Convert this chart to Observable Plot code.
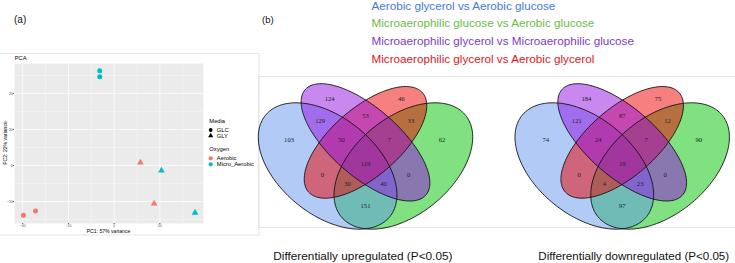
<!DOCTYPE html>
<html>
<head>
<meta charset="utf-8">
<script src="https://cdn.jsdelivr.net/npm/d3@7"></script>
<script src="https://cdn.jsdelivr.net/npm/@observablehq/plot@0.6"></script>
<style>
  html, body { margin: 0; padding: 0; background: #fff; }
  #root { position: relative; width: 735px; height: 263px; overflow: hidden; font-family: "Liberation Sans", Arial, sans-serif; }
  #root svg { position: absolute; }
</style>
</head>
<body>
<div id="root"></div>
<script>
// ---------------- data: PCA ----------------
const pc1 = [-6.3, -6.3, -39.7, -34.4, 11.5, 17.5, 20.7, 35.4];
const pc2 = [26.3, 24.6, -13.8, -12.6, 0.8, -10.6, -1.4, -13.1];
const media = ["GLC", "GLC", "GLC", "GLC", "GLY", "GLY", "GLY", "GLY"];
const oxygen = ["Micro_Aerobic", "Micro_Aerobic", "Aerobic", "Aerobic", "Aerobic", "Aerobic", "Micro_Aerobic", "Micro_Aerobic"];
const mediaLevels = ["GLC", "GLY"];
const oxygenLevels = ["Aerobic", "Micro_Aerobic"];
const pcaXTicks = [-40, -20, 0, 20];
const pcaYTicks = [-10, 0, 10, 20];
const pcaXMinor = [-30, -10, 10, 30];
const pcaYMinor = [-15, -5, 5, 15, 25];
const pcaTitle = "PCA";
const pcaXLabel = "PC1: 57% variance";
const pcaYLabel = "PC2: 22% variance";

// ---------------- data: Venn ----------------
const comparisons = [
  "Aerobic glycerol vs Aerobic glucose",
  "Microaerophilic glucose vs Aerobic glucose",
  "Microaerophilic glycerol vs Microaerophilic glucose",
  "Microaerophilic glycerol vs Aerobic glycerol"
];
// regions: B=set1 (blue), G=set2 (green), P=set3 (purple), R=set4 (red)
const regionNames = ["P", "PR", "R", "BP", "BPR", "BGPR", "GPR", "GR", "B", "BR", "BGR", "BGP", "GP", "G", "BG"];
const upCounts   = [124, 53, 46, 129, 50, 119, 7, 33, 103, 0, 30, 40, 0, 62, 151];
const downCounts = [184, 87, 75, 121, 24, 19, 7, 12, 74, 0, 4, 23, 0, 90, 97];
const vennTitles = ["Differentially upregulated (P<0.05)", "Differentially downregulated (P<0.05)"];

// ---------------- styles / layout ----------------
const oxygenColors = ["#F8766D", "#00BFC4"];
const setFill = ["cornflowerblue", "#00c400", "#9410e2", "#ee0000"];
const setTextColor = ["#4678d8", "#6cbb46", "#7b3cc6", "#e0141b"];
// label anchors of the 15 regions (unit square of the diagram)
const regionLabelX = [0.35, 0.50, 0.65, 0.31, 0.40, 0.50, 0.60, 0.69, 0.18, 0.32, 0.425, 0.575, 0.68, 0.82, 0.50];
const regionLabelY = [0.77, 0.69, 0.77, 0.67, 0.58, 0.47, 0.58, 0.67, 0.58, 0.42, 0.38, 0.38, 0.42, 0.58, 0.28];
// ellipse geometry (unit square of the diagram): blue, green, purple, red
const ellipseShape = [
  {cx: 0.3415, cy: 0.4615, a: 0.35, b: 0.214, rot: 135},
  {cx: 0.6585, cy: 0.4615, a: 0.35, b: 0.214, rot: 45},
  {cx: 0.50, cy: 0.57, a: 0.35, b: 0.15, rot: 135},
  {cx: 0.50, cy: 0.57, a: 0.33, b: 0.15, rot: 45}
];
const fillOrder = [1, 0, 3, 2];

const FONT = "Liberation Sans, Arial, sans-serif";
const root = d3.select("#root");

// ---------------- static annotations ----------------
const ann = root.append("svg").attr("width", 735).attr("height", 263).style("left", "0px").style("top", "0px")
  .attr("font-family", FONT);
ann.append("rect").attr("x", -1).attr("y", 53.5).attr("width", 260).attr("height", 181.5)
  .attr("fill", "none").attr("stroke", "#e4e4e4");
ann.append("rect").attr("x", 258.5).attr("y", 76.5).attr("width", 480).attr("height", 151)
  .attr("fill", "none").attr("stroke", "#e4e4e4");
ann.append("text").attr("x", 14).attr("y", 23).attr("font-size", 10).attr("fill", "#111").text("(a)");
ann.append("text").attr("x", 262).attr("y", 23).attr("font-size", 9.5).attr("fill", "#111").text("(b)");
const legendBase = [9.8, 26.8, 45, 63];
comparisons.forEach((c, i) => {
  ann.append("text").attr("x", 371.5).attr("y", legendBase[i]).attr("font-size", 11.7)
    .attr("fill", setTextColor[i]).text(c);
});
ann.append("text").attr("x", 273.3).attr("y", 260).attr("font-size", 11.8).attr("fill", "#111").text(vennTitles[0]);
ann.append("text").attr("x", 538.3).attr("y", 260).attr("font-size", 11.6).attr("fill", "#111").text(vennTitles[1]);

// PCA titles
ann.append("text").attr("x", 14.7).attr("y", 57.5).attr("dominant-baseline", "central")
  .attr("font-size", 5.8).attr("fill", "#000").text(pcaTitle);
ann.append("text").attr("x", 108.5).attr("y", 230.8).attr("dominant-baseline", "central").attr("text-anchor", "middle")
  .attr("font-size", 5.1).attr("fill", "#000").text(pcaXLabel);
ann.append("text").attr("transform", "translate(5,143) rotate(-90)").attr("dominant-baseline", "central")
  .attr("text-anchor", "middle").attr("font-size", 5.1).attr("fill", "#000").text(pcaYLabel);

// PCA legend
const lg = ann.append("g").attr("font-size", 5.8).attr("fill", "#000");
lg.append("text").attr("x", 209.3).attr("y", 121).attr("dominant-baseline", "central").text("Media");
const mediaSym = [d3.symbolCircle, d3.symbolTriangle];
mediaLevels.forEach((m, i) => {
  const y = 130 + i * 5.7;
  lg.append("path").attr("transform", `translate(210.7,${y})`)
    .attr("d", d3.symbol(mediaSym[i], Math.PI * 1.9 * 1.9)()).attr("fill", "#000");
  lg.append("text").attr("x", 216.8).attr("y", y).attr("dominant-baseline", "central").text(m);
});
lg.append("text").attr("x", 209.3).attr("y", 149.3).attr("dominant-baseline", "central").text("Oxygen");
oxygenLevels.forEach((o, i) => {
  const y = 158.3 + i * 6;
  lg.append("circle").attr("cx", 210.7).attr("cy", y).attr("r", 2.1).attr("fill", oxygenColors[i]);
  lg.append("text").attr("x", 216.8).attr("y", y).attr("dominant-baseline", "central").text(o);
});

// ---------------- PCA scatter (Plot) ----------------
const samples = pc1.map((d, i) => ({pc1: d, pc2: pc2[i], media: media[i], oxygen: oxygen[i]}));
const pca = Plot.plot({
  width: 205, height: 182,
  marginLeft: 14, marginRight: 2, marginTop: 10, marginBottom: 12,
  style: {background: "none", overflow: "visible", fontFamily: FONT},
  x: {domain: [-43.6, 39.1], axis: null},
  y: {domain: [-16.1, 28.3], axis: null},
  symbol: {domain: mediaLevels, range: ["circle", "triangle"]},
  color: {domain: oxygenLevels, range: oxygenColors},
  marks: [
    Plot.frame({fill: "#EBEBEB", stroke: "none"}),
    Plot.gridX(pcaXMinor, {stroke: "#fff", strokeOpacity: 1, strokeWidth: 0.35}),
    Plot.gridY(pcaYMinor, {stroke: "#fff", strokeOpacity: 1, strokeWidth: 0.35}),
    Plot.gridX(pcaXTicks, {stroke: "#fff", strokeOpacity: 1, strokeWidth: 0.7}),
    Plot.gridY(pcaYTicks, {stroke: "#fff", strokeOpacity: 1, strokeWidth: 0.7}),
    Plot.axisX(pcaXTicks, {anchor: "bottom", tickSize: 1, tickPadding: 0.2, fontSize: 3.4, color: "#4d4d4d", label: null}),
    Plot.axisY(pcaYTicks, {anchor: "left", tickSize: 1.2, tickPadding: 0.6, fontSize: 3.4, color: "#4d4d4d", label: null}),
    Plot.dot(samples, {x: "pc1", y: "pc2", symbol: "media", fill: "oxygen", r: 2.5})
  ]
});
pca.style.left = "0px";
pca.style.top = "53px";
root.node().appendChild(pca);

// ---------------- Venn diagrams (Plot) ----------------
function ellipsePoints(e) {
  const th = e.rot * Math.PI / 180, pts = [];
  for (let k = 0; k < 200; k++) {
    const t = 2 * Math.PI * k / 200;
    const ca = e.a * Math.cos(t), sb = e.b * Math.sin(t);
    pts.push({x: e.cx + ca * Math.cos(th) - sb * Math.sin(th), y: e.cy + ca * Math.sin(th) + sb * Math.cos(th)});
  }
  return pts;
}
const ellipses = ellipseShape.map(ellipsePoints);

function venn(counts, left, xr) {
  const labels = regionNames.map((r, i) => ({region: r, x: regionLabelX[i], y: regionLabelY[i], n: counts[i]}));
  const p = Plot.plot({
    width: 242, height: 156,
    style: {background: "none", overflow: "visible"},
    x: {domain: [0, 1], range: xr, axis: null},
    y: {domain: [0, 1], range: [190, -27.8], axis: null},
    marks: [
      ...fillOrder.map(i => Plot.line(ellipses[i], {x: "x", y: "y", curve: "linear-closed", fill: setFill[i], fillOpacity: 0.5, stroke: "none"})),
      ...[0, 1, 2, 3].map(i => Plot.line(ellipses[i], {x: "x", y: "y", curve: "linear-closed", fill: "none", stroke: "#111", strokeWidth: 0.9})),
      Plot.text(labels, {x: "x", y: "y", text: "n", fontFamily: "Liberation Serif, Times New Roman, serif", fontSize: 6.6, fill: "#222"})
    ]
  });
  p.style.left = left + "px";
  p.style.top = "76px";
  root.node().appendChild(p);
}
venn(upCounts, 245, [0.5, 239.5]);
venn(downCounts, 500, [2.2, 241.2]);
</script>
</body>
</html>
